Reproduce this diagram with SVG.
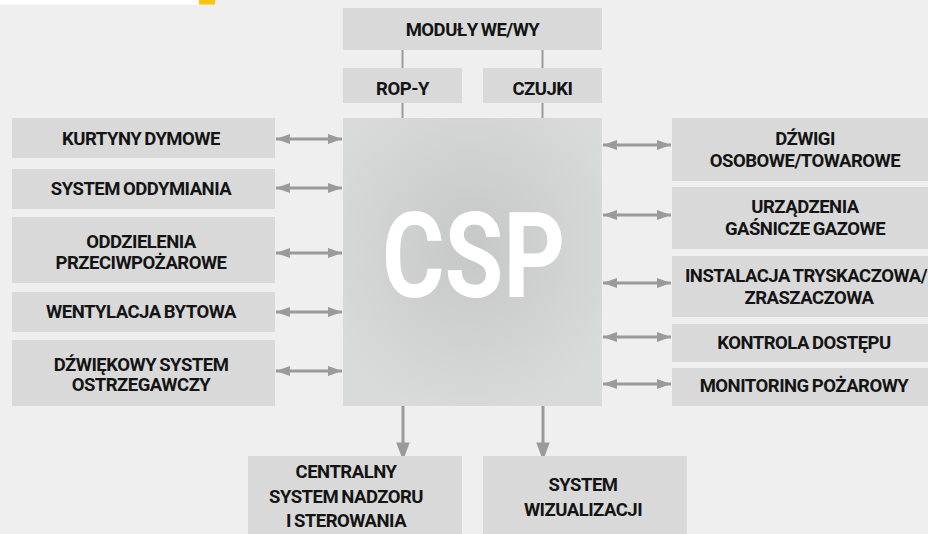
<svg xmlns="http://www.w3.org/2000/svg" width="928" height="534" viewBox="0 0 928 534">
<defs>
<radialGradient id="csp" cx="0.5" cy="0.45" r="0.6">
<stop offset="0" stop-color="#c6c7c7"/>
<stop offset="1" stop-color="#d9dada"/>
</radialGradient>
<marker id="ah" viewBox="0 0 14 10" refX="14" refY="5" markerWidth="14" markerHeight="10" markerUnits="userSpaceOnUse" orient="auto-start-reverse">
<path d="M0,0 L14,5 L0,10 Z" fill="#9a9a9a"/>
</marker>
<marker id="ad" viewBox="0 0 18 24" refX="18" refY="9" markerWidth="24" markerHeight="18" markerUnits="userSpaceOnUse" orient="auto">
<path d="M0,0 L24,9 L0,18 Z" fill="#9a9a9a"/>
</marker>
</defs>
<style>
.box{fill:#d9d9d9}
.t{font-family:Roboto,"Liberation Sans",sans-serif;font-weight:700;font-size:18.5px;letter-spacing:-0.5px;word-spacing:-1px;fill:#141414;text-anchor:middle}
.c{stroke:#9a9a9a;stroke-width:3;fill:none}
.v{stroke:#9a9a9a;stroke-width:2;fill:none}
</style>
<rect width="928" height="534" fill="#efefef"/>
<rect x="0" y="0" width="199" height="4.5" fill="#ffffff"/>
<rect x="199" y="0" width="16" height="4.5" fill="#ffc20e"/>

<g id="connectors">
<line class="v" x1="402.5" y1="50" x2="402.5" y2="68"/>
<line class="v" x1="542.5" y1="50" x2="542.5" y2="68"/>
<line class="v" x1="402.5" y1="103" x2="402.5" y2="118"/>
<line class="v" x1="542.5" y1="103" x2="542.5" y2="118"/>
<line class="c" x1="276" y1="139" x2="342" y2="139" marker-start="url(#ah)" marker-end="url(#ah)"/>
<line class="c" x1="276" y1="188" x2="342" y2="188" marker-start="url(#ah)" marker-end="url(#ah)"/>
<line class="c" x1="276" y1="253" x2="342" y2="253" marker-start="url(#ah)" marker-end="url(#ah)"/>
<line class="c" x1="276" y1="312" x2="342" y2="312" marker-start="url(#ah)" marker-end="url(#ah)"/>
<line class="c" x1="276" y1="371" x2="342" y2="371" marker-start="url(#ah)" marker-end="url(#ah)"/>
<line class="c" x1="603" y1="145" x2="671" y2="145" marker-start="url(#ah)" marker-end="url(#ah)"/>
<line class="c" x1="603" y1="215" x2="671" y2="215" marker-start="url(#ah)" marker-end="url(#ah)"/>
<line class="c" x1="603" y1="283" x2="671" y2="283" marker-start="url(#ah)" marker-end="url(#ah)"/>
<line class="c" x1="603" y1="337" x2="671" y2="337" marker-start="url(#ah)" marker-end="url(#ah)"/>
<line class="c" x1="603" y1="384" x2="671" y2="384" marker-start="url(#ah)" marker-end="url(#ah)"/>
<line class="c" x1="403" y1="406" x2="403" y2="456" marker-end="url(#ad)"/>
<line class="c" x1="543" y1="406" x2="543" y2="456" marker-end="url(#ad)"/>
</g>

<g id="moduly"><rect class="box" x="343" y="8" width="259" height="42"/><text class="t" x="472.5" y="36">MODUŁY WE/WY</text></g>
<g id="ropy"><rect class="box" x="343" y="68" width="119" height="35"/><text class="t" x="402.5" y="95">ROP-Y</text></g>
<g id="czujki"><rect class="box" x="483" y="68" width="119" height="35"/><text class="t" x="542.5" y="95">CZUJKI</text></g>
<g id="csp-node"><rect x="343" y="118" width="259" height="288" fill="url(#csp)"/><text x="473.5" y="297" font-family="Roboto,'Liberation Sans',sans-serif" font-size="118" font-weight="700" fill="#ffffff" text-anchor="middle" textLength="183" lengthAdjust="spacingAndGlyphs">CSP</text></g>

<g id="kurtyny"><rect class="box" x="12" y="118" width="263" height="40"/><text class="t" x="141" y="145">KURTYNY DYMOWE</text></g>
<g id="oddymiania"><rect class="box" x="12" y="169" width="263" height="40"/><text class="t" x="141" y="195">SYSTEM ODDYMIANIA</text></g>
<g id="oddzielenia"><rect class="box" x="12" y="217" width="263" height="66"/><text class="t" x="141" y="248">ODDZIELENIA</text><text class="t" x="141" y="269">PRZECIWPOŻAROWE</text></g>
<g id="wentylacja"><rect class="box" x="12" y="292" width="263" height="40"/><text class="t" x="141" y="318">WENTYLACJA BYTOWA</text></g>
<g id="dsp"><rect class="box" x="12" y="340" width="263" height="66"/><text class="t" x="141" y="371">DŹWIĘKOWY SYSTEM</text><text class="t" x="141" y="391">OSTRZEGAWCZY</text></g>

<g id="dzwigi"><rect class="box" x="672" y="118" width="260" height="63"/><text class="t" x="805" y="145">DŹWIGI</text><text class="t" x="805" y="167">OSOBOWE/TOWAROWE</text></g>
<g id="gasnicze"><rect class="box" x="672" y="187" width="260" height="62"/><text class="t" x="805" y="213">URZĄDZENIA</text><text class="t" x="805" y="235">GAŚNICZE GAZOWE</text></g>
<g id="tryskacze"><rect class="box" x="672" y="256" width="260" height="61"/><text class="t" x="806" y="282">INSTALACJA TRYSKACZOWA/</text><text class="t" x="809" y="304">ZRASZACZOWA</text></g>
<g id="kontrola"><rect class="box" x="672" y="324" width="260" height="38"/><text class="t" x="804" y="349">KONTROLA DOSTĘPU</text></g>
<g id="monitoring"><rect class="box" x="672" y="368" width="260" height="38"/><text class="t" x="804" y="392">MONITORING POŻAROWY</text></g>

<g id="centralny"><rect class="box" x="248" y="456" width="214" height="80"/><text class="t" x="346" y="478">CENTRALNY</text><text class="t" x="346" y="503">SYSTEM NADZORU</text><text class="t" x="346" y="527">I STEROWANIA</text></g>
<g id="wizualizacja"><rect class="box" x="483" y="456" width="204" height="80"/><text class="t" x="583" y="491">SYSTEM</text><text class="t" x="583" y="516">WIZUALIZACJI</text></g>
</svg>
